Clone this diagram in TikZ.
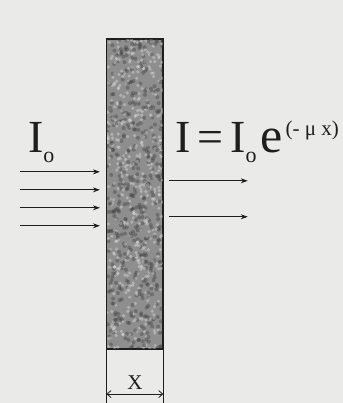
\documentclass[tikz,border=0pt]{standalone}
\usepackage{fontspec}
\setmainfont{Liberation Serif}
\usetikzlibrary{arrows.meta,positioning,calc}
\definecolor{bgPaper}{RGB}{234,234,232}
\definecolor{slabGray}{RGB}{142,142,142}
\definecolor{inkDark}{RGB}{30,30,30}

\begin{document}
\begin{tikzpicture}[x=1pt,y=-1pt,
      slab/.style={draw=inkDark,line width=0.9pt,fill=slabGray,minimum width=56pt,minimum height=310pt,inner sep=0pt},
      grain/.style={fill=black!80,opacity=0.35},
      ray/.style={-{Stealth[length=7pt,width=5pt]},line width=0.9pt,draw=inkDark},
      dim/.style={{Straight Barb[length=4pt,width=7pt]}-{Straight Barb[length=4pt,width=7pt]},line width=0.8pt,draw=inkDark},
      big/.style={font=\fontsize{46}{48}\selectfont,inner sep=0pt,text=inkDark}
    ]
    \fill[bgPaper] (0,0) rectangle (343,403);
    \node[slab] (block) at (135,194) {};
    % grainy look of the absorber
    \begin{scope}
      \clip (block.south west) rectangle (block.north east);
      \pgfmathsetseed{7}
      \foreach \k in {1,...,450} {
        \fill[grain] ($(block.center)+(28*rand,155*rand)$) circle (2pt);
        \fill[white,opacity=0.3] ($(block.center)+(28*rand,155*rand)$) circle (1.8pt);
      }
    \end{scope}
    \draw[inkDark,line width=0.9pt] (block.south west) rectangle (block.north east);
    % thickness marks below the absorber
    \coordinate (botL) at (block.south west |- 0,403);
    \coordinate (botR) at (block.south east |- 0,403);
    \draw[inkDark,line width=0.8pt] (block.south west) -- (botL);
    \draw[inkDark,line width=0.8pt] (block.south east) -- (botR);
    \coordinate (dimL) at ($(block.south west)+(0,45)$);
    \coordinate (dimR) at ($(block.south east)+(0,45)$);
    \draw[dim] (dimL) -- (dimR) node[midway,above=1pt,font=\fontsize{21}{22}\selectfont,text=inkDark] (thick) {X};
    % incident and transmitted beams
    \foreach \i/\y in {1/172,2/190,3/208,4/226} {
      \coordinate (src\i) at (20,\y);
      \coordinate (hit\i) at (100,\y);
      \draw[ray] (src\i) -- (hit\i);
    }
    \foreach \i/\y in {1/181,2/217} {
      \coordinate (out\i) at (169,\y);
      \coordinate (end\i) at (248,\y);
      \draw[ray] (out\i) -- (end\i);
    }
    \node[big,anchor=base west] (iin) at (28,153) {I\raisebox{-10pt}{\fontsize{22}{22}\selectfont o}};
    \node[big,anchor=base west] (iout) at (175,153) {I\hspace{7pt}=\hspace{7pt}I\raisebox{-10pt}{\fontsize{22}{22}\selectfont o}\hspace{4pt}{\fontsize{50}{50}\selectfont e}\hspace{3pt}\raisebox{17pt}{\fontsize{21}{21}\selectfont (- μ x)}};
  \end{tikzpicture}
\end{document}
